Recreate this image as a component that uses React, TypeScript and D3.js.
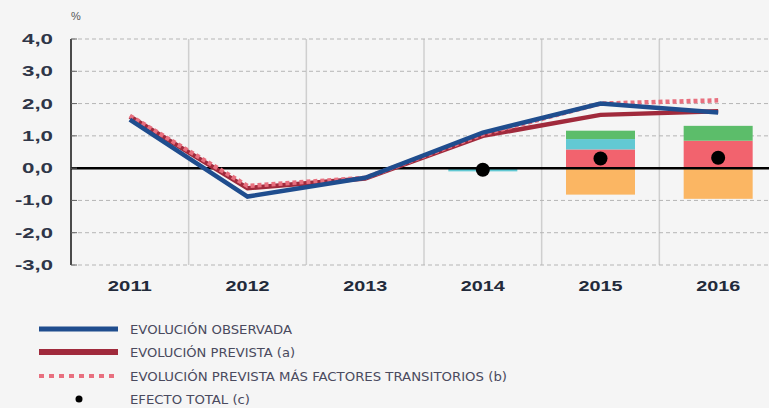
import React from 'react';
import * as d3 from 'd3';

const years = ['2011', '2012', '2013', '2014', '2015', '2016'];
const observada = [1.5, -0.88, -0.3, 1.1, 2.0, 1.72];
const prevista = [1.6, -0.62, -0.32, 1.0, 1.65, 1.76];
const prevTransit = [1.62, -0.55, -0.3, 1.05, 2.0, 2.1];
const barYears = ['2014', '2015', '2016'];
const redPart = [0, 0.58, 0.85];
const cyanPart = [-0.1, 0.32, 0];
const greenPart = [0, 0.26, 0.46];
const orangePart = [0, -0.82, -0.95];
const efectoTotal = [-0.05, 0.3, 0.32];
const yTicks = [4, 3, 2, 1, 0, -1, -2, -3];
const legendItems = [
  'EVOLUCIÓN OBSERVADA',
  'EVOLUCIÓN PREVISTA (a)',
  'EVOLUCIÓN PREVISTA MÁS FACTORES TRANSITORIOS (b)',
  'EFECTO TOTAL (c)',
];
const legendWidths = [162, 165, 377, 120];

const W = 769;
const H = 408;
const bg = '#f5f5f5';

export default function App() {
  const x = d3.scaleBand().domain(years).range([71, 777]);
  const y = d3.scaleLinear().domain([-3, 4]).range([265, 39]);
  const cx = (yr: string) => (x(yr) as number) + x.bandwidth() / 2;
  const barW = 69;

  const line = d3.line<number>()
    .x((_, i) => cx(years[i]))
    .y(d => y(d));

  const stacks = barYears.map((yr, i) => {
    const segs: { y0: number; y1: number; c: string }[] = [];
    let pos = 0;
    let neg = 0;
    const parts = [
      [redPart[i], '#f2636e'],
      [cyanPart[i], '#62c9d3'],
      [greenPart[i], '#5cbd6a'],
      [orangePart[i], '#fbb663'],
    ] as [number, string][];
    parts.forEach(([v, c]) => {
      if (v >= 0) { segs.push({ y0: pos, y1: pos + v, c }); pos += v; }
      else { segs.push({ y0: neg + v, y1: neg, c }); neg += v; }
    });
    return { yr, segs };
  });

  const fmt = (v: number) => v.toFixed(1).replace('.', ',');
  const font = '"Liberation Sans", Arial, sans-serif';

  return (
    <svg width={W} height={H} style={{ position: 'absolute', left: 0, top: 0 }}>
      <rect width={W} height={H} fill={bg} />
      {/* vertical separators */}
      {years.slice(1).map(yr => (
        <line key={yr} x1={x(yr)} x2={x(yr)} y1={39} y2={265} stroke="#cfcfcf" strokeWidth={1.5} />
      ))}
      {/* horizontal dashed grid */}
      {yTicks.filter(t => t !== 0).map(t => (
        <line key={t} x1={71} x2={W} y1={y(t)} y2={y(t)} stroke="#b5b5b5" strokeWidth={1} strokeDasharray="4,3" />
      ))}
      {/* stacked bars */}
      {stacks.map(s => s.segs.filter(g => g.y1 !== g.y0).map((g, j) => (
        <rect key={s.yr + j} x={cx(s.yr) - barW / 2} width={barW}
          y={y(g.y1)} height={y(g.y0) - y(g.y1)} fill={g.c} />
      )))}
      {/* zero line */}
      <line x1={71} x2={W} y1={y(0)} y2={y(0)} stroke="#000" strokeWidth={2.5} />
      {/* y axis */}
      <line x1={71} x2={71} y1={39} y2={265} stroke="#111" strokeWidth={1.5} />
      {yTicks.map(t => (
        <g key={t}>
          <line x1={71} x2={77} y1={y(t)} y2={y(t)} stroke="#666" strokeWidth={1} />
          <text x={53} y={y(t) + 5} textAnchor="end" fontFamily={font} fontWeight="bold" fontSize={14}
            fill="#2f3648" textLength={t < 0 ? 38 : 31} lengthAdjust="spacingAndGlyphs">{fmt(t)}</text>
        </g>
      ))}
      <text x={71} y={20} fontFamily={font} fontSize={11} fill="#555">%</text>
      {/* lines */}
      <path d={line(prevista) ?? ''} fill="none" stroke="#a02a3c" strokeWidth={4.5} />
      <path d={line(prevTransit) ?? ''} fill="none" stroke="#e8707f" strokeWidth={4.5} strokeDasharray="4,3" />
      <path d={line(observada) ?? ''} fill="none" stroke="#1f4d8e" strokeWidth={4.5} />
      {/* efecto total */}
      {barYears.map((yr, i) => (
        <circle key={yr} cx={cx(yr)} cy={y(efectoTotal[i])} r={7} fill="#000" />
      ))}
      {/* x labels */}
      {years.map(yr => (
        <text key={yr} x={cx(yr)} y={291} textAnchor="middle" fontFamily={font} fontWeight="bold" fontSize={15}
          fill="#222a3a" textLength={44} lengthAdjust="spacingAndGlyphs">{yr}</text>
      ))}
      {/* legend */}
      <g fontFamily='"Liberation Sans Narrow", "DejaVu Sans Condensed", sans-serif' fontSize={12} fill="#4a4a5e">
        <line x1={39} x2={118} y1={329} y2={329} stroke="#1f4d8e" strokeWidth={5} />
        <line x1={39} x2={118} y1={352} y2={352} stroke="#a02a3c" strokeWidth={6} />
        <line x1={39} x2={118} y1={376} y2={376} stroke="#e8707f" strokeWidth={4} strokeDasharray="5,5" />
        <circle cx={79} cy={399} r={3.5} fill="#000" />
        {legendItems.map((t, i) => (
          <text key={t} x={130} y={333.5 + i * 23.5} textLength={legendWidths[i]} lengthAdjust="spacingAndGlyphs">{t}</text>
        ))}
      </g>
    </svg>
  );
}
